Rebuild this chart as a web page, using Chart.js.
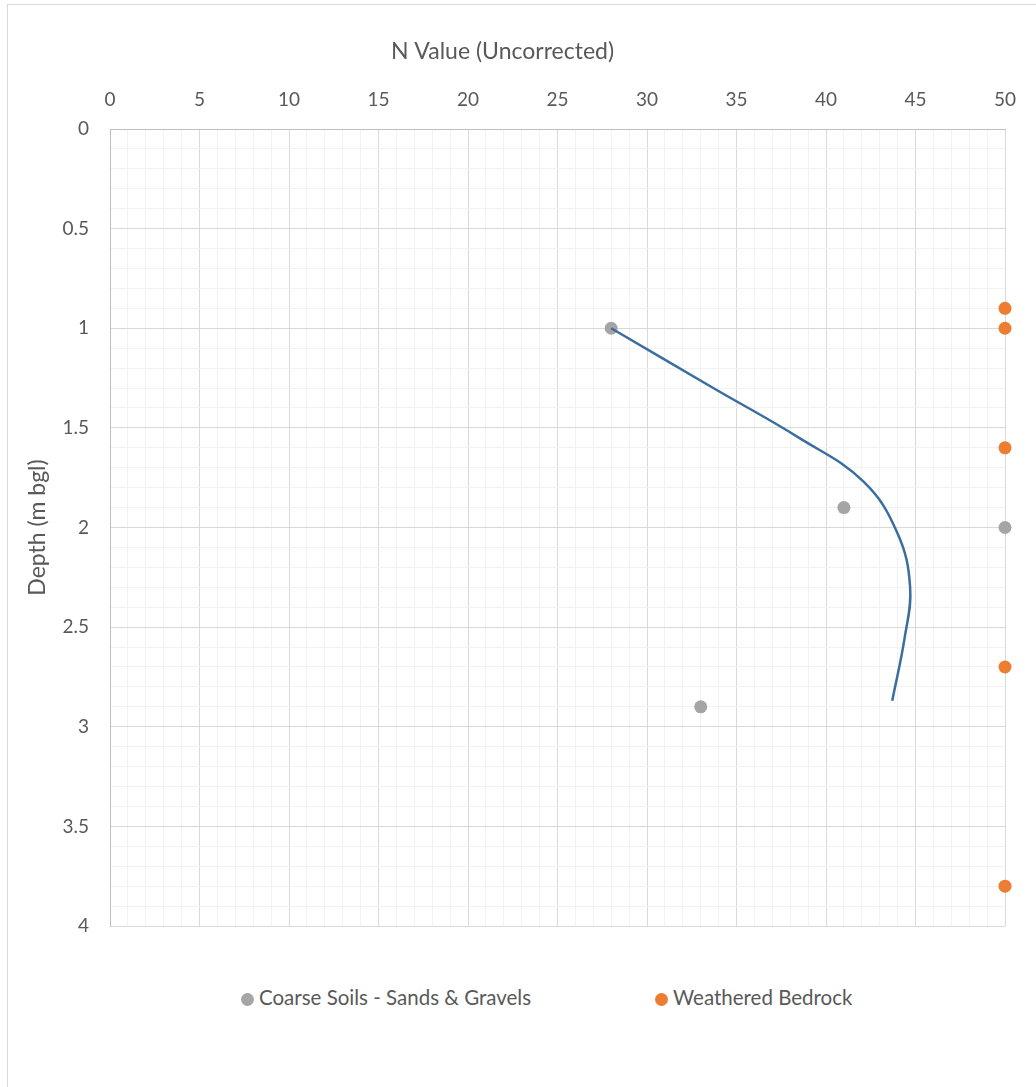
<!DOCTYPE html>
<html>
<head>
<meta charset="utf-8">
<script src="https://cdn.jsdelivr.net/npm/chart.js@4"></script>
<style>
  html, body { margin: 0; padding: 0; width: 1036px; height: 1087px; overflow: hidden; background: #fff; }
  #frame { position: absolute; left: 7px; top: 4px; width: 1100px; height: 1200px; border: 1px solid #d9d9d9; }
  #chart { position: absolute; left: 0; top: 0; }
  .key { position: absolute; top: 984px; font: 20.5px Lato, sans-serif; color: #595959; white-space: nowrap; line-height: 26px; }
  .key i { display: inline-block; width: 13px; height: 13px; border-radius: 50%; margin-right: 5px; vertical-align: -1px; }
</style>
</head>
<body>
<div id="frame"></div>
<canvas id="chart" width="1036" height="960"></canvas>
<div class="key" style="left:241px"><i style="background:#a5a5a5"></i>Coarse Soils - Sands &amp; Gravels</div>
<div class="key" style="left:655px"><i style="background:#ed7d31"></i>Weathered Bedrock</div>
<script>
// SPT results, N value against depth
var coarseN = [28, 41, 50, 33];
var coarseDepth = [1.0, 1.9, 2.0, 2.9];
var bedrockN = [50, 50, 50, 50, 50];
var bedrockDepth = [0.9, 1.0, 1.6, 2.7, 3.8];

// trend line
var trendN = [28.0, 33.7, 38.5, 42.1, 44.0, 44.7, 44.4, 43.7];
var trendDepth = [1.0, 1.30, 1.55, 1.77, 2.03, 2.30, 2.55, 2.87];

function toPoints(xs, ys) {
  var pts = [];
  for (var i = 0; i < xs.length; i++) pts.push({x: xs[i], y: ys[i]});
  return pts;
}

var tickFont = {family: 'Lato', size: 19};
var titleFont = {family: 'Lato', size: 23, weight: 'normal'};

new Chart(document.getElementById('chart'), {
  type: 'scatter',
  data: {
    datasets: [{
      label: 'Trend',
      data: toPoints(trendN, trendDepth),
      showLine: true,
      borderColor: '#3b6e9e',
      borderWidth: 2.5,
      pointRadius: 0,
      tension: 0.4,
      fill: false
    }, {
      label: 'Coarse Soils - Sands & Gravels',
      data: toPoints(coarseN, coarseDepth),
      backgroundColor: '#a5a5a5',
      borderWidth: 0,
      pointRadius: 6.5,
      clip: false
    }, {
      label: 'Weathered Bedrock',
      data: toPoints(bedrockN, bedrockDepth),
      backgroundColor: '#ed7d31',
      borderWidth: 0,
      pointRadius: 6.5,
      clip: false
    }]
  },
  options: {
    responsive: false,
    animation: false,
    devicePixelRatio: 1,
    layout: {padding: {left: 0, right: 31, top: 0, bottom: 34}, autoPadding: false},
    plugins: {
      legend: {display: false},
      tooltip: {enabled: false},
      title: {
        display: true,
        text: 'N Value (Uncorrected)',
        color: '#595959',
        font: titleFont,
        padding: {top: 38.2, bottom: 10}
      }
    },
    scales: {
      x: {
        type: 'linear',
        position: 'top',
        min: 0,
        max: 50,
        afterFit: function (scale) { scale.height = 53.2; },
        ticks: {
          stepSize: 1,
          autoSkip: false,
          maxRotation: 0,
          padding: 17.6,
          color: '#595959',
          font: tickFont,
          callback: function (v) { return v % 5 === 0 ? String(v) : ''; }
        },
        grid: {
          drawTicks: false,
          color: function (c) { return c.tick && c.tick.value % 5 === 0 ? '#d9d9d9' : '#f2f2f2'; }
        },
        border: {color: '#bfbfbf'}
      },
      y: {
        type: 'linear',
        reverse: true,
        min: 0,
        max: 4,
        afterFit: function (scale) { scale.width = 110; },
        title: {
          display: true,
          text: 'Depth (m bgl)',
          color: '#595959',
          font: titleFont,
          padding: {top: 24.2, bottom: 0}
        },
        ticks: {
          stepSize: 0.1,
          autoSkip: false,
          padding: 21,
          color: '#595959',
          font: tickFont,
          callback: function (v) {
            var r = Math.round(v * 10);
            return r % 5 === 0 ? String(r / 10) : '';
          }
        },
        grid: {
          drawTicks: false,
          color: function (c) {
            return c.tick && Math.round(c.tick.value * 10) % 5 === 0 ? '#d9d9d9' : '#f2f2f2';
          }
        },
        border: {color: '#bfbfbf'}
      }
    }
  }
});
</script>
</body>
</html>
